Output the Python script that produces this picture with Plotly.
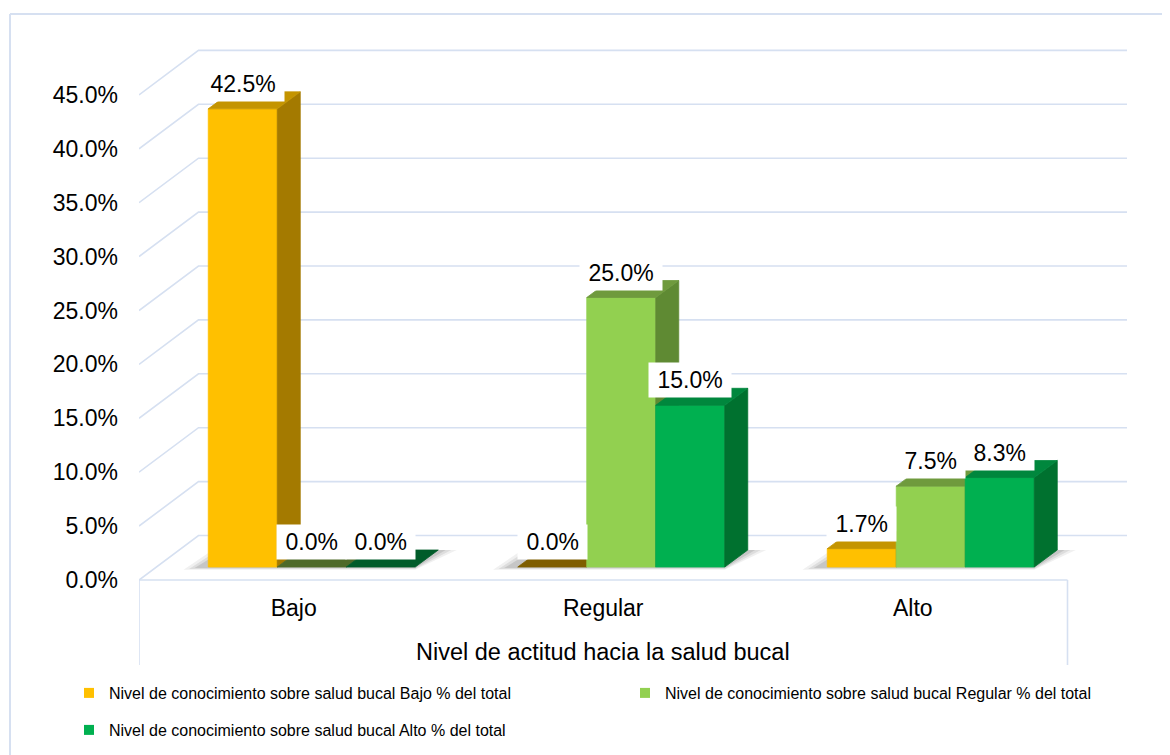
import plotly.graph_objects as go

# ---------------- data ----------------
categories = ["Bajo", "Regular", "Alto"]
series_names = [
    "Nivel de conocimiento sobre salud bucal Bajo % del total",
    "Nivel de conocimiento sobre salud bucal Regular % del total",
    "Nivel de conocimiento sobre salud bucal Alto % del total",
]
conoc_bajo = [42.5, 0.0, 1.7]
conoc_regular = [0.0, 25.0, 7.5]
conoc_alto = [0.0, 15.0, 8.3]
y_ticks = [0, 5, 10, 15, 20, 25, 30, 35, 40, 45]
x_title = "Nivel de actitud hacia la salud bucal"

series_values = [conoc_bajo, conoc_regular, conoc_alto]

# ---------------- style ----------------
FONT = "Arial, Liberation Sans, sans-serif"
FRONT = ["#FFC000", "#92D050", "#00B050"]
SIDE = ["#A47A00", "#5F8A33", "#00712F"]
TOP = ["#C49400", "#6F9A3D", "#00873D"]
ZERO_TOP = ["#7F5E00", "#4E6A29", "#005C2A"]
GRID = "#D6E0F1"
LABEL_SIZE = 23

# page body has an 8px margin -> figure is 8px smaller, coordinates below are page px
OFF = 8
W, H = 1170 - OFF, 755 - OFF
PLOT_L, PLOT_R, PLOT_T, PLOT_B = 139, 1130, 30, 586   # page px of plot area
M_L, M_R, M_T, M_B = PLOT_L - OFF, W - (PLOT_R - OFF), PLOT_T - OFF, H - (PLOT_B - OFF)
PW = PLOT_R - PLOT_L
PH = PLOT_B - PLOT_T
PX_CAT = 309.5      # px per category unit
PX_PCT = 10.78      # px per percent
X_MIN = -0.5
X_MAX = X_MIN + PW / PX_CAT
Y_MIN = -6 / PX_PCT
Y_MAX = Y_MIN + PH / PX_PCT

# 3D projection offsets (converted from px to data units)
WALL_X, WALL_Y = 59.5 / PX_CAT, 44.5 / PX_PCT
SHIFT_X, SHIFT_Y = 18 / PX_CAT, 13 / PX_PCT
DEPTH_X, DEPTH_Y = 23 / PX_CAT, 17 / PX_PCT
BAR_W = 69 / PX_CAT
GROUP_HALF = 1.5 * BAR_W
n_cat = len(categories)


def paper_x(px):
    return (px - PLOT_L) / PW


def paper_y(py):
    return (PLOT_B - py) / PH


def label_box_width(text):
    # approximate Arial advance widths for digits, '.', '%' plus side padding
    w = 0.0
    for ch in text:
        w += 0.278 if ch == "." else (0.889 if ch == "%" else 0.556)
    return w * LABEL_SIZE + 17


def poly(xs, ys, color, line_w=0.8):
    return go.Scatter(
        x=xs + [xs[0]], y=ys + [ys[0]], mode="lines", fill="toself",
        fillcolor=color, line=dict(color=color, width=line_w),
        hoverinfo="skip", showlegend=False,
    )


fig = go.Figure()

# back wall gridlines (with left-wall diagonals)
gx, gy = [], []
for v in y_ticks:
    gx += [X_MIN, X_MIN + WALL_X, X_MIN + n_cat + WALL_X, None]
    gy += [v, v + WALL_Y, v + WALL_Y, None]
# front floor edge
gx += [X_MIN, X_MIN + n_cat, None]
gy += [0, 0, None]
fig.add_trace(go.Scatter(x=gx, y=gy, mode="lines", line=dict(color=GRID, width=1.6),
                         hoverinfo="skip", showlegend=False))

# bars, drawn group by group, left to right
annotations = []
for c in range(n_cat):
    g0 = c - GROUP_HALF + SHIFT_X
    g1 = g0 + 3 * BAR_W
    # soft floor shadow
    for k, a in [(1.0, 0.06), (0.7, 0.08), (0.4, 0.10)]:
        ex = 0.06 * k
        fig.add_trace(poly(
            [g0 - ex - 0.02, g1, g1 + DEPTH_X + ex, g0 + DEPTH_X - ex],
            [SHIFT_Y - 0.25 * k, SHIFT_Y - 0.25 * k, SHIFT_Y + DEPTH_Y, SHIFT_Y + DEPTH_Y],
            "rgba(0,0,0,%.2f)" % a, line_w=0))
    for s in range(len(series_values)):
        v = series_values[s][c]
        x0 = g0 + s * BAR_W
        x1 = x0 + BAR_W
        yb = SHIFT_Y
        yt = v + SHIFT_Y
        if v > 0:
            fig.add_trace(poly([x0, x1, x1, x0], [yb, yb, yt, yt], FRONT[s]))
            fig.add_trace(poly([x1, x1 + DEPTH_X, x1 + DEPTH_X, x1],
                               [yb, yb + DEPTH_Y, yt + DEPTH_Y, yt], SIDE[s]))
        top_col = TOP[s] if v > 0 else ZERO_TOP[s]
        fig.add_trace(poly([x0, x1, x1 + DEPTH_X, x0 + DEPTH_X],
                           [yt, yt, yt + DEPTH_Y, yt + DEPTH_Y], top_col))
        txt = "%.1f%%" % v
        annotations.append(dict(
            x=(x0 + x1) / 2, y=yt + DEPTH_Y, xref="x", yref="y",
            text=txt, showarrow=False, yanchor="middle", yshift=8,
            bgcolor="white", borderpad=0, width=label_box_width(txt), height=34,
            align="center", valign="middle",
            font=dict(family=FONT, size=LABEL_SIZE, color="black")))

# legend-only entries
for s, name in enumerate(series_names):
    fig.add_trace(go.Scatter(
        x=[None], y=[None], mode="markers", name=name,
        marker=dict(symbol="square", size=10, color=FRONT[s]),
        legend="legend" if s < 2 else "legend2"))

# axis title under the front axis
annotations.append(dict(
    x=(n_cat - 1) / 2, xref="x", y=paper_y(652), yref="paper", text=x_title,
    showarrow=False, yanchor="middle", font=dict(family=FONT, size=23.5, color="black")))

y0p = (0 - Y_MIN) / (Y_MAX - Y_MIN)
shapes = [
    # category box sides
    dict(type="line", xref="x", yref="paper", x0=X_MIN, x1=X_MIN, y0=y0p, y1=paper_y(665),
         line=dict(color=GRID, width=1.6)),
    dict(type="line", xref="x", yref="paper", x0=X_MIN + n_cat, x1=X_MIN + n_cat, y0=y0p,
         y1=paper_y(665), line=dict(color=GRID, width=1.6)),
    # outer chart border
    dict(type="line", xref="paper", yref="paper", x0=paper_x(10), x1=paper_x(10),
         y0=paper_y(14), y1=paper_y(760), line=dict(color=GRID, width=2)),
    dict(type="line", xref="paper", yref="paper", x0=paper_x(10), x1=paper_x(1175),
         y0=paper_y(14), y1=paper_y(14), line=dict(color=GRID, width=2)),
]

legend_common = dict(
    orientation="h", xanchor="left", yanchor="top", bgcolor="rgba(0,0,0,0)",
    font=dict(family=FONT, size=16, color="black"), itemwidth=30,
    itemclick=False, itemdoubleclick=False,
)

fig.update_layout(
    width=W, height=H,
    margin=dict(l=M_L, r=M_R, t=M_T, b=M_B, autoexpand=False),
    paper_bgcolor="white", plot_bgcolor="white",
    font=dict(family=FONT, color="black"),
    xaxis=dict(range=[X_MIN, X_MAX], tickvals=list(range(n_cat)), ticktext=categories,
               showgrid=False, zeroline=False, showline=False, ticks="",
               ticklabelstandoff=6, tickfont=dict(family=FONT, size=23, color="black"),
               fixedrange=True),
    yaxis=dict(range=[Y_MIN, Y_MAX], tickvals=y_ticks,
               ticktext=["%.1f%%" % t for t in y_ticks],
               showgrid=False, zeroline=False, showline=False, ticks="",
               ticklabelstandoff=20, tickfont=dict(family=FONT, size=23, color="black"),
               fixedrange=True),
    legend=dict(legend_common, x=paper_x(69), y=paper_y(676),
                entrywidth=511, entrywidthmode="pixels"),
    legend2=dict(legend_common, x=paper_x(69), y=paper_y(713)),
    annotations=annotations,
    shapes=shapes,
    showlegend=True,
)

fig.write_html("out.html")
